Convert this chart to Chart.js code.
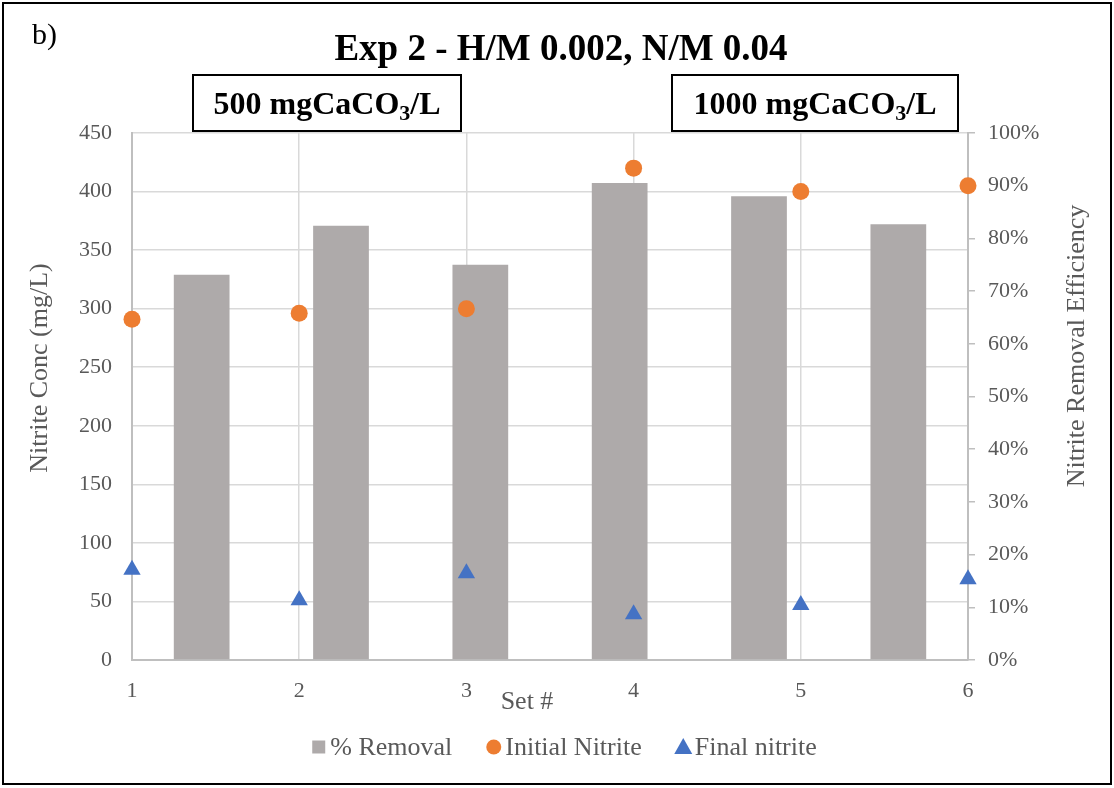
<!DOCTYPE html>
<html>
<head>
<meta charset="utf-8">
<script src="https://cdn.jsdelivr.net/npm/chart.js@4.4.1/dist/chart.umd.min.js"></script>
<style>
html,body{margin:0;padding:0;background:#fff;}
#wrap{position:relative;width:1114px;height:788px;}
canvas{display:block;}
</style>
</head>
<body>
<div id="wrap"><canvas id="c" width="1114" height="788"></canvas></div>
<script>
// ---- data ----
const setLabels = ['1', '2', '3', '4', '5', '6'];
const setNumbers = [1, 2, 3, 4, 5, 6];
const removalPct = [73.1, 82.4, 75.0, 90.5, 88.0, 82.7];
const initialNitrite = [291, 296, 300, 420, 400, 405];
const finalNitrite = [77, 51, 74, 39, 47, 69];

const seriesNames = ['% Removal', 'Initial Nitrite', 'Final nitrite'];
const chartTitle = 'Exp 2 - H/M 0.002, N/M 0.04';
const panelLabel = 'b)';
const xTitle = 'Set #';
const yTitle = 'Nitrite Conc (mg/L)';
const y2Title = 'Nitrite Removal Efficiency';
const boxLabels = [['500 mgCaCO', '3', '/L'], ['1000 mgCaCO', '3', '/L']];

const FONT = "'Liberation Serif', 'Times New Roman', serif";
const GRAY_TEXT = '#595959';
const BAR_COLOR = '#AEAAAA';
const ORANGE = '#ED7D31';
const BLUE = '#4472C4';

Chart.defaults.font.family = FONT;
Chart.defaults.color = GRAY_TEXT;

const decor = {
  id: 'decor',
  afterDraw(chart) {
    const ctx = chart.ctx;
    ctx.save();
    // outer border
    ctx.strokeStyle = '#000';
    ctx.lineWidth = 2;
    ctx.strokeRect(3, 3, 1108, 781);

    // panel label
    ctx.fillStyle = '#000';
    ctx.font = '30px ' + FONT;
    ctx.textAlign = 'left';
    ctx.textBaseline = 'alphabetic';
    ctx.fillText(panelLabel, 32, 44);

    // title
    ctx.font = 'bold 37px ' + FONT;
    ctx.textAlign = 'center';
    ctx.fillText(chartTitle, 561, 60);

    // annotation boxes
    const boxes = [{x: 193, y: 75, w: 268, h: 56}, {x: 672, y: 75, w: 286, h: 56}];
    boxes.forEach((b, i) => {
      ctx.fillStyle = '#fff';
      ctx.fillRect(b.x, b.y, b.w, b.h);
      ctx.strokeStyle = '#000';
      ctx.lineWidth = 2;
      ctx.strokeRect(b.x, b.y, b.w, b.h);
      const parts = boxLabels[i];
      const big = 'bold 32px ' + FONT;
      const small = 'bold 22px ' + FONT;
      ctx.font = big; const w1 = ctx.measureText(parts[0]).width;
      ctx.font = small; const w2 = ctx.measureText(parts[1]).width;
      ctx.font = big; const w3 = ctx.measureText(parts[2]).width;
      let x = b.x + b.w / 2 - (w1 + w2 + w3) / 2;
      const base = b.y + b.h / 2 + 11;
      ctx.fillStyle = '#000';
      ctx.textAlign = 'left';
      ctx.font = big; ctx.fillText(parts[0], x, base); x += w1;
      ctx.font = small; ctx.fillText(parts[1], x, base + 6); x += w2;
      ctx.font = big; ctx.fillText(parts[2], x, base);
    });

    // axis titles
    ctx.fillStyle = GRAY_TEXT;
    ctx.font = '26px ' + FONT;
    ctx.textAlign = 'center';
    ctx.textBaseline = 'middle';
    ctx.fillText(xTitle, 527, 702);
    ctx.save();
    ctx.translate(40, 368);
    ctx.rotate(-Math.PI / 2);
    ctx.fillText(yTitle, 0, 0);
    ctx.restore();
    ctx.save();
    ctx.translate(1077, 346);
    ctx.rotate(-Math.PI / 2);
    ctx.fillText(y2Title, 0, 0);
    ctx.restore();

    // legend
    const ds = chart.data.datasets;
    const items = [
      {label: ds[2].label, type: 'rect', color: ds[2].backgroundColor},
      {label: ds[0].label, type: 'circle', color: ds[0].backgroundColor},
      {label: ds[1].label, type: 'triangle', color: ds[1].backgroundColor}
    ];
    ctx.font = '26px ' + FONT;
    ctx.textAlign = 'left';
    ctx.textBaseline = 'alphabetic';
    const mW = 15, gap = 4, itemGap = 34;
    const widths = items.map(it => ctx.measureText(it.label).width);
    const total = widths.reduce((a, b) => a + b, 0) + items.length * (mW + gap) + itemGap * (items.length - 1);
    let lx = 564 - total / 2;
    const cy = 747, base = 755;
    items.forEach((it, i) => {
      ctx.fillStyle = it.color;
      ctx.beginPath();
      if (it.type === 'rect') {
        ctx.rect(lx + 1, cy - 6.5, 13, 13);
      } else if (it.type === 'circle') {
        ctx.arc(lx + mW / 2, cy, 7.5, 0, Math.PI * 2);
      } else {
        ctx.moveTo(lx + mW / 2, cy - 9);
        ctx.lineTo(lx + mW / 2 + 9, cy + 7);
        ctx.lineTo(lx + mW / 2 - 9, cy + 7);
        ctx.closePath();
      }
      ctx.fill();
      lx += mW + gap;
      ctx.fillStyle = GRAY_TEXT;
      ctx.fillText(it.label, lx, base);
      lx += widths[i] + itemGap;
    });
    ctx.restore();
  }
};

const ctx = document.getElementById('c').getContext('2d');
new Chart(ctx, {
  data: {
    labels: setLabels,
    datasets: [
      {
        type: 'scatter',
        label: seriesNames[1],
        data: setNumbers.map((s, i) => ({x: s, y: initialNitrite[i]})),
        xAxisID: 'x',
        yAxisID: 'y',
        backgroundColor: ORANGE,
        borderColor: ORANGE,
        pointStyle: 'circle',
        pointRadius: 8.5,
        borderWidth: 0,
        clip: false,
        order: 1
      },
      {
        type: 'scatter',
        label: seriesNames[2],
        data: setNumbers.map((s, i) => ({x: s, y: finalNitrite[i]})),
        xAxisID: 'x',
        yAxisID: 'y',
        backgroundColor: BLUE,
        borderColor: BLUE,
        pointStyle: 'triangle',
        pointRadius: 10,
        borderWidth: 0,
        clip: false,
        order: 2
      },
      {
        type: 'bar',
        label: seriesNames[0],
        data: removalPct,
        xAxisID: 'xBar',
        yAxisID: 'y1',
        backgroundColor: BAR_COLOR,
        borderWidth: 0,
        grouped: false,
        barPercentage: 0.4,
        categoryPercentage: 1.0,
        order: 3
      }
    ]
  },
  options: {
    responsive: false,
    animation: false,
    devicePixelRatio: 1,
    layout: {padding: {top: 133, left: 0, right: 0, bottom: 0}},
    plugins: {
      legend: {display: false},
      title: {display: false},
      tooltip: {enabled: false}
    },
    scales: {
      x: {
        type: 'linear',
        position: 'bottom',
        min: 1, max: 6,
        ticks: {stepSize: 1, padding: 18, font: {size: 22}, color: GRAY_TEXT},
        grid: {color: '#D9D9D9', lineWidth: 1.5, drawTicks: false},
        border: {color: '#BFBFBF', width: 2},
        afterFit(s) { s.height = 128; }
      },
      xBar: {
        type: 'category',
        labels: setLabels,
        offset: true,
        display: false
      },
      y: {
        type: 'linear',
        position: 'left',
        min: 0, max: 450,
        ticks: {stepSize: 50, padding: 20, font: {size: 22}, color: GRAY_TEXT},
        grid: {color: '#D9D9D9', lineWidth: 1.5, drawTicks: false},
        border: {color: '#BFBFBF', width: 2},
        afterFit(s) { s.width = 132; }
      },
      y1: {
        type: 'linear',
        position: 'right',
        min: 0, max: 100,
        ticks: {stepSize: 10, padding: 13, font: {size: 22}, color: GRAY_TEXT,
                callback: v => v + '%'},
        grid: {drawOnChartArea: false, drawTicks: true, tickLength: 7, tickColor: '#BFBFBF', lineWidth: 1.5},
        border: {color: '#BFBFBF', width: 2},
        afterFit(s) { s.width = 146; }
      }
    }
  },
  plugins: [decor]
});
</script>
</body>
</html>
